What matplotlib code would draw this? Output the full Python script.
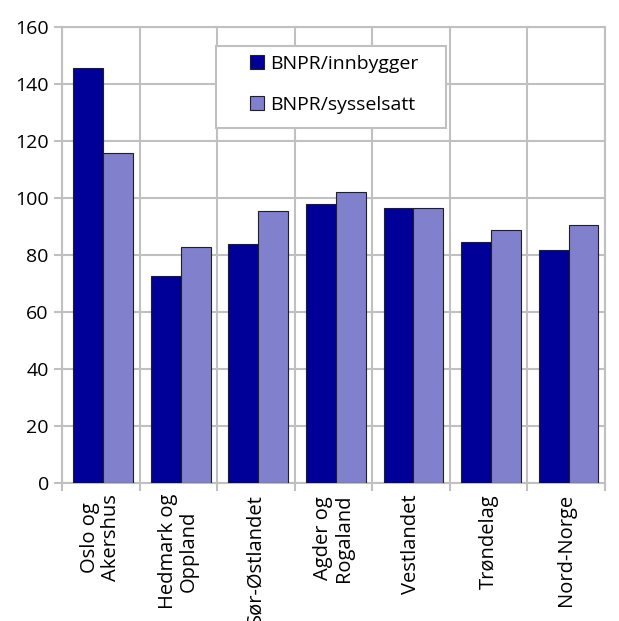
import matplotlib.pyplot as plt
from matplotlib.patches import Rectangle
import numpy as np

regions = ['Oslo og\nAkershus', 'Hedmark og\nOppland', 'Sør-Østlandet',
           'Agder og\nRogaland', 'Vestlandet', 'Trøndelag', 'Nord-Norge']
bnpr_innbygger = [145.6, 72.7, 83.7, 97.8, 96.4, 84.5, 81.6]
bnpr_sysselsatt = [115.9, 82.7, 95.5, 102.0, 96.4, 88.7, 90.6]

fig = plt.figure(figsize=(6.19, 6.21), dpi=100)
ax = fig.add_axes([62/619, 1 - 483/621, (605-62)/619, (483-27)/621])

x = np.arange(len(regions))
w = 0.385
ax.bar(x - w/2 + 0.03, bnpr_innbygger, w, color='#000099', edgecolor='#202020',
       linewidth=0.8, label='BNPR/innbygger', zorder=3)
ax.bar(x + w/2 + 0.03, bnpr_sysselsatt, w, color='#8080cc', edgecolor='#202020',
       linewidth=0.8, label='BNPR/sysselsatt', zorder=3)

ax.set_ylim(0, 160)
ax.set_xlim(-0.5, len(regions) - 0.5)
ax.set_yticks(range(0, 161, 20))
ax.set_xticks(np.arange(-0.5, len(regions)), minor=False)
ax.set_xticklabels([])
ax.set_xticks(x, minor=True)
ax.set_xticklabels(regions, minor=True, rotation=90, fontsize=14.5,
                   family='Open Sans', linespacing=1.05)
ax.tick_params(axis='x', which='minor', length=0, pad=8)
ax.tick_params(axis='x', which='major', length=6, color='#c0c0c0', width=1.5)
ax.tick_params(axis='y', length=6, color='#c0c0c0', width=1.5, labelsize=14)
for t in ax.get_yticklabels():
    t.set_family('Open Sans')

ax.grid(True, which='major', color='#c0c0c0', linewidth=1.5, zorder=0)
for s in ax.spines.values():
    s.set_color('#c0c0c0')
    s.set_linewidth(1.5)

# legend frame drawn separately (wide side padding like the original)
ax.add_patch(Rectangle((0.2836, 0.7785), 0.4236, 0.1798, transform=ax.transAxes,
                       facecolor='white', edgecolor='#c0c0c0', linewidth=1.5,
                       zorder=4))
leg = ax.legend(loc='upper left', bbox_to_anchor=(0.3462, 0.9386),
                prop={'family': 'Open Sans', 'size': 14}, frameon=False,
                handlelength=0.72, handleheight=0.72, handletextpad=0.3,
                borderpad=0, labelspacing=1.18, borderaxespad=0)
leg.set_zorder(5)

fig.savefig('out.png', dpi=100)
